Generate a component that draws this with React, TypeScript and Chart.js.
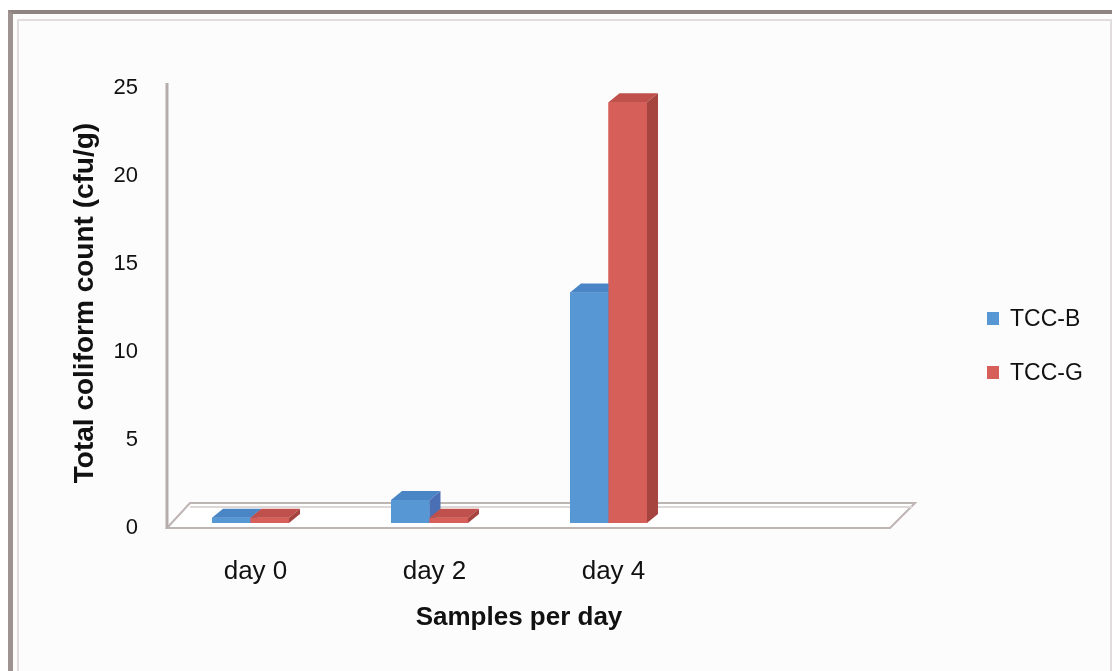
import React, { useEffect, useRef } from "react";
import { Chart, registerables } from "chart.js";

Chart.register(...registerables);

const categories = ["day 0", "day 2", "day 4", ""];
const seriesNames = ["TCC-B", "TCC-G"];
const tccB = [0.3, 1.3, 13.1, null];
const tccG = [0.3, 0.3, 23.9, null];
const yTickValues = [0, 5, 10, 15, 20, 25];

const FRONT = ["#5697d4", "#d75f59"];
const TOP = ["#4a86c6", "#c0504b"];
const SIDE = ["#4b6fb5", "#a6443f"];
const FONT = "'Liberation Sans', Arial, sans-serif";

const DX = 11;
const DY = -9;

const floorPlugin = {
  id: "floor3d",
  beforeDatasetsDraw(chart: any) {
    const { ctx, chartArea } = chart;
    const y = chart.scales.y;
    const zero = y.getPixelForValue(0);
    const top = y.getPixelForValue(25);
    const fl = chartArea.left + 6;
    const fr = chartArea.right + 13;
    const fy = zero + 5;
    const by = zero - 20;
    const bl = fl + 23;
    const br = fr + 25;
    ctx.save();
    ctx.fillStyle = "#ffffff";
    ctx.beginPath();
    ctx.moveTo(fl, fy);
    ctx.lineTo(bl, by);
    ctx.lineTo(br, by);
    ctx.lineTo(fr, fy);
    ctx.closePath();
    ctx.fill();
    ctx.strokeStyle = "#bdb5b2";
    ctx.lineWidth = 2;
    ctx.beginPath();
    ctx.moveTo(fl, fy);
    ctx.lineTo(bl, by);
    ctx.lineTo(br, by);
    ctx.lineTo(fr, fy);
    ctx.closePath();
    ctx.stroke();
    ctx.strokeStyle = "#ddd8d6";
    ctx.lineWidth = 2;
    ctx.beginPath();
    ctx.moveTo(bl, by + 4);
    ctx.lineTo(br - 3, by + 4);
    ctx.stroke();
    ctx.strokeStyle = "#b5adab";
    ctx.lineWidth = 3;
    ctx.beginPath();
    ctx.moveTo(fl, top);
    ctx.lineTo(fl, fy);
    ctx.stroke();
    ctx.restore();
  },
};

// Re-draws each bar element (through Chart.js's own element) in dataset order,
// adding top and side faces for a 3D look; later series cover earlier sides.
const barsPlugin = {
  id: "bars3d",
  afterDatasetsDraw(chart: any) {
    const { ctx } = chart;
    ctx.save();
    chart.data.datasets.forEach((ds: any, i: number) => {
      const meta = chart.getDatasetMeta(i);
      meta.data.forEach((bar: any, j: number) => {
        const v = ds.data[j];
        if (v === null || v === undefined) return;
        bar.draw(ctx, chart.chartArea);
        const p = bar.getProps(["x", "y", "base", "width"], true);
        const l = p.x - p.width / 2;
        const r = p.x + p.width / 2;
        const t = p.y;
        const b = p.base;
        ctx.fillStyle = TOP[i];
        ctx.beginPath();
        ctx.moveTo(l, t);
        ctx.lineTo(l + DX, t + DY);
        ctx.lineTo(r + DX, t + DY);
        ctx.lineTo(r, t);
        ctx.closePath();
        ctx.fill();
        ctx.fillStyle = SIDE[i];
        ctx.beginPath();
        ctx.moveTo(r, t);
        ctx.lineTo(r + DX, t + DY);
        ctx.lineTo(r + DX, b + DY);
        ctx.lineTo(r, b);
        ctx.closePath();
        ctx.fill();
      });
    });
    ctx.restore();
  },
};

export default function App() {
  const ref = useRef<HTMLCanvasElement | null>(null);

  useEffect(() => {
    if (!ref.current) return;
    const chart = new Chart(ref.current, {
      type: "bar",
      data: {
        labels: categories,
        datasets: [
          {
            label: seriesNames[0],
            data: tccB,
            backgroundColor: FRONT[0],
            borderWidth: 0,
            barPercentage: 1,
            categoryPercentage: 0.43,
          },
          {
            label: seriesNames[1],
            data: tccG,
            backgroundColor: FRONT[1],
            borderWidth: 0,
            barPercentage: 1,
            categoryPercentage: 0.43,
          },
        ],
      },
      options: {
        responsive: false,
        animation: false,
        layout: { padding: { top: 83, right: 239, bottom: 0, left: 0 } },
        plugins: {
          legend: { display: false },
          tooltip: { enabled: false },
        },
        scales: {
          x: {
            grid: { display: false, drawTicks: false },
            border: { display: false },
            ticks: {
              color: "#111",
              font: { family: FONT, size: 26 },
              padding: 33,
              labelOffset: 5,
            },
            title: {
              display: true,
              text: "Samples per day",
              color: "#111",
              font: { family: FONT, size: 26, weight: "bold" },
              padding: { top: 0, bottom: 38 },
            },
            afterFit: (s: any) => {
              s.height = 148;
            },
          },
          y: {
            min: 0,
            max: 25,
            grid: { display: false, drawTicks: false },
            border: { display: false },
            afterBuildTicks: (s: any) => {
              s.ticks = yTickValues.map((v) => ({ value: v }));
            },
            ticks: {
              color: "#111",
              font: { family: FONT, size: 22 },
              padding: 23,
              labelOffset: 5,
            },
            title: {
              display: true,
              text: "Total coliform count (cfu/g)",
              color: "#111",
              font: { family: FONT, size: 28, weight: "bold" },
              padding: { top: 68, bottom: 0 },
            },
            afterFit: (s: any) => {
              s.width = 161;
            },
          },
        },
      },
      plugins: [floorPlugin, barsPlugin],
    });
    return () => chart.destroy();
  }, []);

  const legendTop = [312, 366];

  return (
    <div
      style={{
        position: "absolute",
        left: 0,
        top: 0,
        width: 1116,
        height: 671,
        overflow: "hidden",
        background: "#ffffff",
      }}
    >
      <div
        style={{
          position: "absolute",
          left: 8,
          top: 10,
          width: 1104,
          height: 680,
          borderTop: "4px solid #8f8482",
          borderLeft: "5px solid #9d9290",
          boxSizing: "border-box",
          background: "#fcfcfc",
        }}
      />
      <div
        style={{
          position: "absolute",
          left: 17,
          top: 19,
          width: 1095,
          height: 680,
          borderTop: "2px solid #e2dddc",
          borderLeft: "2px solid #e2dddc",
          borderRight: "2px solid #e2dddc",
          boxSizing: "border-box",
        }}
      />
      <canvas
        ref={ref}
        width={1116}
        height={671}
        style={{ position: "absolute", left: 0, top: 0 }}
      />
      {seriesNames.map((name, i) => (
        <div
          key={name}
          style={{
            position: "absolute",
            left: 987,
            top: legendTop[i],
            height: 13,
            display: "flex",
            alignItems: "center",
            fontFamily: FONT,
            fontSize: 23,
            color: "#111",
            whiteSpace: "nowrap",
          }}
        >
          <span
            style={{
              display: "inline-block",
              width: 12,
              height: 13,
              background: FRONT[i],
              marginRight: 11,
            }}
          />
          <span>{name}</span>
        </div>
      ))}
    </div>
  );
}
